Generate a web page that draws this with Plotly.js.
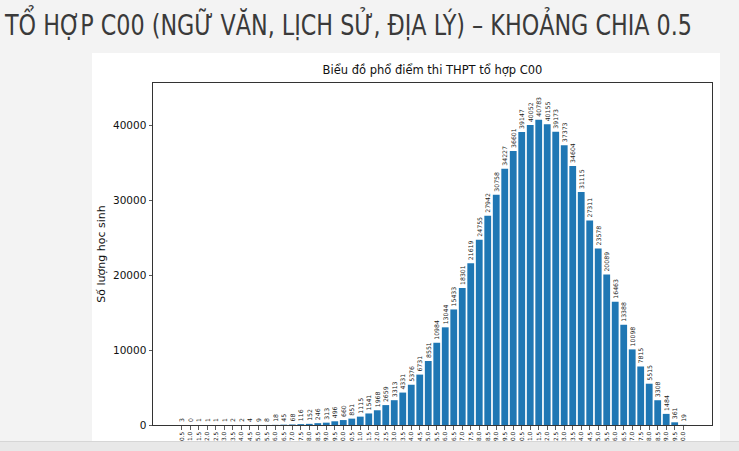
<!DOCTYPE html>
<html>
<head>
<meta charset="utf-8">
<script src="https://cdn.plot.ly/plotly-3.0.1.min.js"></script>
<style>
  html, body { margin: 0; padding: 0; width: 739px; height: 451px; overflow: hidden; background: #f3f3f3; }
  #heading {
    position: absolute; left: 5px; top: 8px; white-space: nowrap;
    font-family: "Liberation Sans Narrow", "DejaVu Sans Condensed", "Roboto", sans-serif;
    font-size: 29px; color: #3a3a3a; transform-origin: 0 0; line-height: 34px;
  }
  #fig { position: absolute; left: 92px; top: 53px; width: 628px; height: 400px; background: #fff; }
  #strip { position: absolute; left: 0; top: 441px; width: 739px; height: 10px; background: #e8e8e8; border-top: 1px solid #d6d6d6; }
</style>
</head>
<body>
<div id="heading">TỔ HỢP C00 (NGỮ VĂN, LỊCH SỬ, ĐỊA LÝ) – KHOẢNG CHIA 0.5</div>
<div id="fig"></div>
<div id="strip"></div>
<script>
const scores = ["0.5","1.0","1.5","2.0","2.5","3.0","3.5","4.0","4.5","5.0",
  "5.5","6.0","6.5","7.0","7.5","8.0","8.5","9.0","9.5","10.0",
  "10.5","11.0","11.5","12.0","12.5","13.0","13.5","14.0","14.5","15.0",
  "15.5","16.0","16.5","17.0","17.5","18.0","18.5","19.0","19.5","20.0",
  "20.5","21.0","21.5","22.0","22.5","23.0","23.5","24.0","24.5","25.0",
  "25.5","26.0","26.5","27.0","27.5","28.0","28.5","29.0","29.5","30.0"];
const counts = [3,0,1,1,1,1,2,2,4,9,
  8,18,45,68,116,152,246,313,496,660,
  851,1115,1541,1968,2659,3313,4331,5376,6731,8551,
  10984,13044,15433,18301,21619,24755,27942,30758,34227,36601,
  39147,40052,40783,40155,39173,37373,34604,31115,27311,23578,
  20089,16463,13388,10098,7815,5515,3308,1484,361,19];
const yTicks = [0,10000,20000,30000,40000];
const chartTitle = "Biểu đồ phổ điểm thi THPT tổ hợp C00";
const yTitle = "Số lượng học sinh";

// fit heading width
const h = document.getElementById('heading');
const w = h.getBoundingClientRect().width;
h.style.transform = 'scaleX(' + (687 / w) + ')';

const trace = {
  type: 'bar', x: scores, y: counts, width: 0.8,
  marker: { color: '#1f77b4', line: { width: 0 } },
  text: counts.map(String), textposition: 'outside', textangle: -90,
  textfont: { family: 'DejaVu Sans', size: 6.2, color: '#222' },
  constraintext: 'none', cliponaxis: false, hoverinfo: 'skip'
};
const layout = {
  width: 628, height: 400,
  margin: { l: 61, r: 8, t: 30, b: 27.5 },
  paper_bgcolor: '#ffffff', plot_bgcolor: '#ffffff',
  showlegend: false,
  title: { text: chartTitle, font: { family: 'DejaVu Sans', size: 11.5, color: '#111' },
           x: 0.5, xref: 'paper', xanchor: 'center', y: 1 - 17/400, yref: 'container', yanchor: 'middle' },
  xaxis: {
    type: 'category', range: [-3.39, 62.39], showgrid: false, zeroline: false,
    showline: true, mirror: true, linecolor: '#333', linewidth: 1,
    ticks: 'outside', ticklen: 3.5, tickcolor: '#333', tickwidth: 0.8,
    tickangle: -90, tickfont: { family: 'DejaVu Sans', size: 5.8, color: '#222' },
    fixedrange: true
  },
  yaxis: {
    range: [0, 45677], showgrid: false, zeroline: false,
    showline: true, mirror: true, linecolor: '#333', linewidth: 1,
    ticks: 'outside', ticklen: 3.5, tickcolor: '#333', tickwidth: 0.8,
    tickmode: 'array', tickvals: yTicks, ticktext: yTicks.map(String),
    tickfont: { family: 'DejaVu Sans', size: 10.5, color: '#111' },
    title: { text: yTitle, font: { family: 'DejaVu Sans', size: 11, color: '#111' }, standoff: 5 },
    fixedrange: true
  },
  bargap: 0.2
};
Plotly.newPlot('fig', [trace], layout, { displayModeBar: false, staticPlot: true });
</script>
</body>
</html>
